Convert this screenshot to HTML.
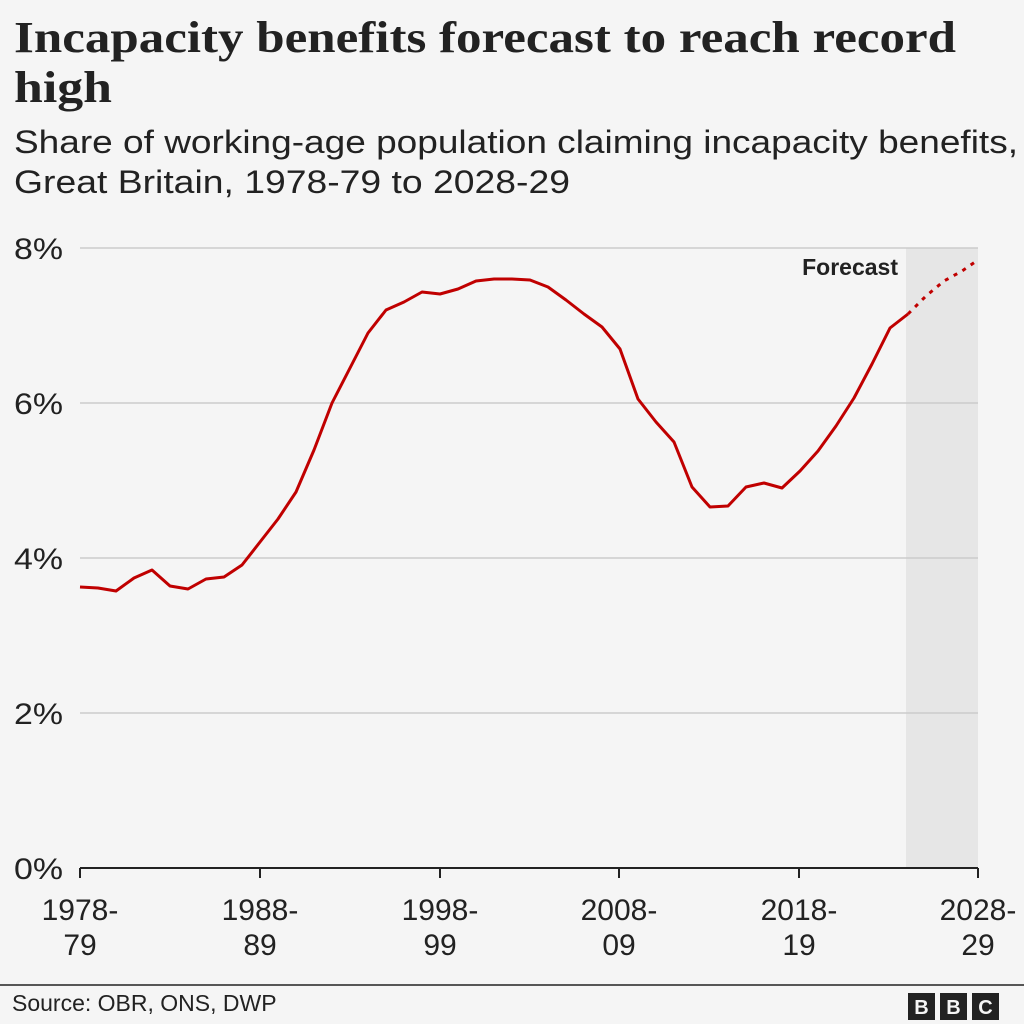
<!DOCTYPE html>
<html><head><meta charset="utf-8"><style>
html,body{margin:0;padding:0;background:#f5f5f5;}
body{width:1024px;height:1024px;position:relative;overflow:hidden;font-family:"Liberation Sans",sans-serif;}
</style></head><body>
<svg width="1024" height="1024" viewBox="0 0 1024 1024" xmlns="http://www.w3.org/2000/svg" style="position:absolute;left:0;top:0">
<rect width="1024" height="1024" fill="#f5f5f5"/>
<text x="14" y="52" font-family="Liberation Serif, serif" font-weight="bold" font-size="44" fill="#222" textLength="942" lengthAdjust="spacingAndGlyphs">Incapacity benefits forecast to reach record</text>
<text x="14" y="102" font-family="Liberation Serif, serif" font-weight="bold" font-size="44" fill="#222" textLength="98" lengthAdjust="spacingAndGlyphs">high</text>
<text x="14" y="153" font-size="32" fill="#222" textLength="1004" lengthAdjust="spacingAndGlyphs">Share of working-age population claiming incapacity benefits,</text>
<text x="14" y="193" font-size="32" fill="#222" textLength="556" lengthAdjust="spacingAndGlyphs">Great Britain, 1978-79 to 2028-29</text>
<rect x="906" y="248" width="72" height="620" fill="#e6e6e6"/>
<g stroke="#cccccc" stroke-width="1.5">
<line x1="80" y1="248" x2="978" y2="248"/>
<line x1="80" y1="403" x2="978" y2="403"/>
<line x1="80" y1="558" x2="978" y2="558"/>
<line x1="80" y1="713" x2="978" y2="713"/>
</g>
<g font-size="30" fill="#222">
<text x="14" y="259" textLength="49" lengthAdjust="spacingAndGlyphs">8%</text>
<text x="14" y="414" textLength="49" lengthAdjust="spacingAndGlyphs">6%</text>
<text x="14" y="569" textLength="49" lengthAdjust="spacingAndGlyphs">4%</text>
<text x="14" y="724" textLength="49" lengthAdjust="spacingAndGlyphs">2%</text>
<text x="14" y="879" textLength="49" lengthAdjust="spacingAndGlyphs">0%</text>
</g>
<text x="898" y="275" text-anchor="end" font-weight="bold" font-size="23" fill="#222">Forecast</text>
<line x1="80" y1="868" x2="978" y2="868" stroke="#222" stroke-width="2"/>
<g stroke="#222" stroke-width="2">
<line x1="80" y1="868" x2="80" y2="878"/><line x1="260" y1="868" x2="260" y2="878"/><line x1="440" y1="868" x2="440" y2="878"/><line x1="619" y1="868" x2="619" y2="878"/><line x1="799" y1="868" x2="799" y2="878"/><line x1="978" y1="868" x2="978" y2="878"/>
</g>
<g font-size="30" fill="#222" text-anchor="middle">
<text x="80" y="920">1978-</text><text x="80" y="955">79</text>
<text x="260" y="920">1988-</text><text x="260" y="955">89</text>
<text x="440" y="920">1998-</text><text x="440" y="955">99</text>
<text x="619" y="920">2008-</text><text x="619" y="955">09</text>
<text x="799" y="920">2018-</text><text x="799" y="955">19</text>
<text x="978" y="920">2028-</text><text x="978" y="955">29</text>
</g>
<polyline fill="none" stroke="#c00000" stroke-width="3" stroke-linejoin="round" points="80,587 98,588 116,591 134,578 152,570 170,586 188,589 206,579 224,577 242,565 260,542 278,519 296,492 314,450 332,403 350,368 368,333 386,310 404,302 422,292 440,294 458,289 476,281 494,279 512,279 530,280 548,287 566,300 584,314 602,327 620,349 638,399 656,422 674,442 692,487 710,507 728,506 746,487 764,483 782,488 800,471 818,451 836,426 854,398 872,364 890,328 908,314"/>
<polyline fill="none" stroke="#c00000" stroke-width="3" stroke-dasharray="4,6" points="908,314 926,296 944,281 962,271 978,260"/>
<line x1="0" y1="985" x2="1024" y2="985" stroke="#222" stroke-width="1.5"/>
<text x="12" y="1011" font-size="23" fill="#222">Source: OBR, ONS, DWP</text>
<g font-weight="bold" font-size="20" fill="#f5f5f5" text-anchor="middle">
<rect x="908" y="993" width="27" height="27" fill="#222"/><text x="921.5" y="1014">B</text>
<rect x="940" y="993" width="27" height="27" fill="#222"/><text x="953.5" y="1014">B</text>
<rect x="972" y="993" width="27" height="27" fill="#222"/><text x="985.5" y="1014">C</text>
</g>
</svg>
</body></html>
